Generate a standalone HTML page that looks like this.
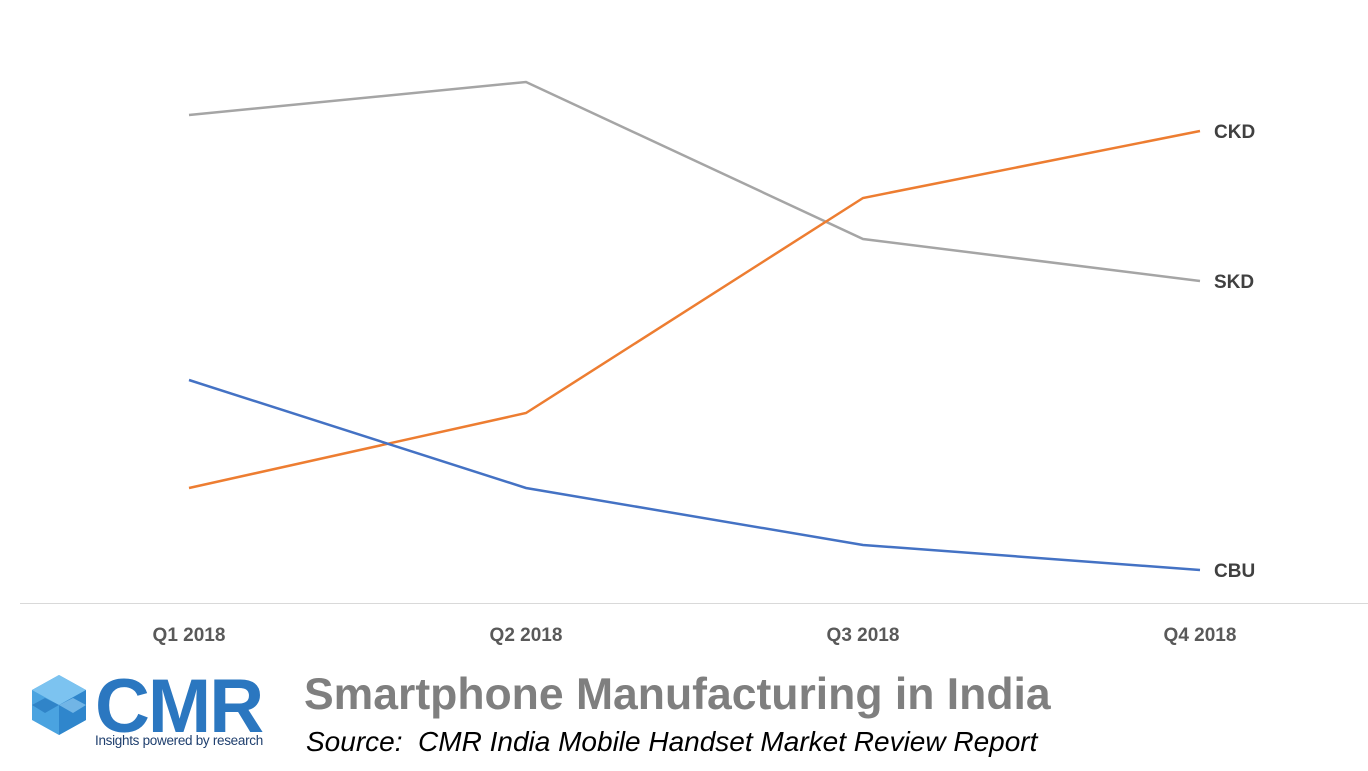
<!DOCTYPE html>
<html><head><meta charset="utf-8"><style>
body{margin:0;width:1368px;height:771px;background:#fff;overflow:hidden;font-family:"Liberation Sans",sans-serif;position:relative}
.t{position:absolute;white-space:nowrap}
</style></head><body>
<svg id="chart" width="1368" height="660" style="position:absolute;left:0;top:0"></svg>
<svg width="62" height="64" style="position:absolute;left:28px;top:673px" viewBox="0 0 62 64">
<polygon points="31,2 58,17 58,47 31,62 4,47 4,17" fill="#4aa3e0"/>
<polygon points="31,2 58,17 31,32 4,17" fill="#7cc3f0"/>
<polygon points="31,32 58,17 58,47 31,62" fill="#2f86cc"/>
<polygon points="17,25 31,32 17,40 4,32" fill="#1f6fb8" opacity=".6"/>
<polygon points="45,25 58,32 45,40 31,32" fill="#9fd6f7" opacity=".6"/>
</svg>
<div class="t" style="left:95px;top:663px;font-size:76px;font-weight:bold;color:#2b77c0;letter-spacing:-2px">CMR</div>
<div class="t" style="left:95px;top:733px;font-size:13.5px;color:#1f3f6e;letter-spacing:-0.3px">Insights powered by research</div>
<div class="t" style="left:304px;top:670px;font-size:44.5px;font-weight:bold;color:#7f7f7f">Smartphone Manufacturing in India</div>
<div class="t" style="left:306px;top:726px;font-size:28px;font-style:italic;color:#000">Source:&nbsp; CMR India Mobile Handset Market Review Report</div>
<script>
const categories=["Q1 2018","Q2 2018","Q3 2018","Q4 2018"];
const seriesNames=["SKD","CKD","CBU"];
const skd=[48.8,52.1,36.4,32.2];
const ckd=[11.5,19.0,40.5,47.2];
const cbu=[22.3,11.5,5.8,3.3];
const colors=["#a5a5a5","#ed7d31","#4472c4"];
const NS="http://www.w3.org/2000/svg";
const svg=document.getElementById('chart');
const x=i=>189+i*337;
const y=v=>603-v*10;
function mk(t,a){const e=document.createElementNS(NS,t);for(const k in a)e.setAttribute(k,a[k]);svg.appendChild(e);return e;}
const ax=mk('line',{x1:20,x2:1368,y1:603.5,y2:603.5,stroke:'#d9d9d9','stroke-width':1});


categories.forEach((c,i)=>{const t=mk('text',{x:x(i),y:641,'text-anchor':'middle','font-size':19,'font-weight':'bold',fill:'#595959'});t.textContent=c;

});
[skd,ckd,cbu].forEach((s,k)=>{
const p=mk('polyline',{points:s.map((v,i)=>x(i)+','+y(v)).join(' '),fill:'none',stroke:colors[k],'stroke-width':2.5});


const t=mk('text',{x:1214,y:y(s[3])+7,'font-size':19,'font-weight':'bold',fill:'#404040'});t.textContent=seriesNames[k];


});
</script>
</body></html>
